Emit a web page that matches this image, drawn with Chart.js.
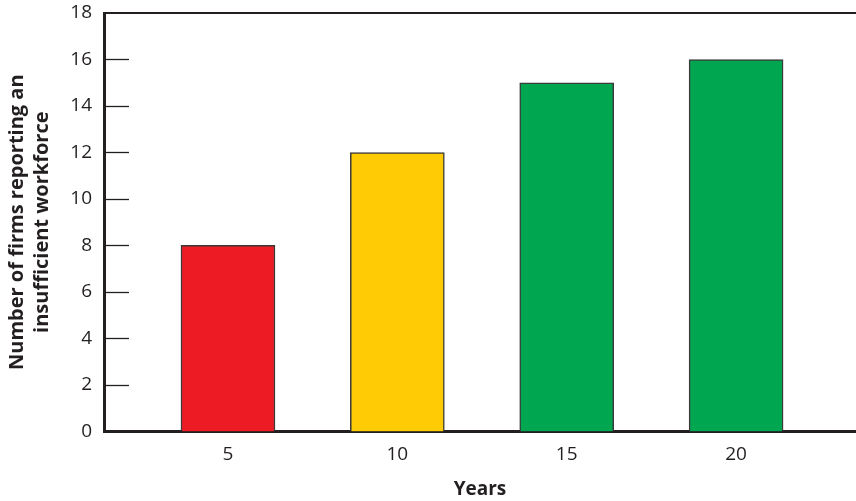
<!DOCTYPE html>
<html>
<head>
<meta charset="utf-8">
<script src="https://cdn.jsdelivr.net/npm/chart.js@4/dist/chart.umd.min.js"></script>
<style>
  html, body { margin: 0; padding: 0; background: #fff; }
  #wrap { width: 856px; height: 501px; position: relative; }
</style>
</head>
<body>
<div id="wrap"><canvas id="firmsChart"></canvas></div>
<script>
// data
const years = [5, 10, 15, 20]
const firms = [8, 12, 15, 16]
const barColors = ["#ED1C24", "#FFCB05", "#00A650", "#00A650"]
const yTicks = [0, 2, 4, 6, 8, 10, 12, 14, 16, 18]

const axisColor = "#231F20"
const textColor = "#231F20"

// tick marks drawn inward from the left axis + top frame line
const innerTicks = {
  id: "innerTicks",
  afterDraw(chart) {
    const { ctx, chartArea, scales } = chart
    const y = scales.y
    ctx.save()
    ctx.strokeStyle = axisColor
    ctx.lineWidth = 1.3
    yTicks.forEach((v) => {
      if (v === 0 || v === 18) return
      const py = Math.round(y.getPixelForValue(v)) + 0.5
      ctx.beginPath()
      ctx.moveTo(chartArea.left, py)
      ctx.lineTo(chartArea.left + 25, py)
      ctx.stroke()
    })
    // top line at 18
    const top = y.getPixelForValue(18)
    ctx.lineWidth = 2
    ctx.beginPath()
    ctx.moveTo(chartArea.left, top)
    ctx.lineTo(chartArea.right, top)
    ctx.stroke()
    ctx.restore()
  },
}

const ctx = document.getElementById("firmsChart")
new Chart(ctx, {
  type: "bar",
  data: {
    datasets: [
      {
        data: years.map((yr, i) => ({ x: yr, y: firms[i] })),
        backgroundColor: barColors,
        borderColor: "#3A3A3A",
        borderWidth: 1.5,
        borderSkipped: "bottom",
        barThickness: 94,
      },
    ],
  },
  options: {
    responsive: true,
    maintainAspectRatio: false,
    animation: false,
    layout: { padding: { left: 0, right: 0, top: 13, bottom: 0 } },
    plugins: {
      legend: { display: false },
      tooltip: { enabled: false },
    },
    scales: {
      x: {
        type: "linear",
        offset: false,
        min: 1.34,
        max: 23.54,
        afterBuildTicks: (scale) => {
          scale.ticks = years.map((v) => ({ value: v }))
        },
        grid: { display: false, drawTicks: false },
        border: { display: true, color: axisColor, width: 3 },
        ticks: {
          color: textColor,
          padding: 12,
          font: { family: "'Open Sans', sans-serif", size: 19 },
        },
        title: {
          display: true,
          text: "Years",
          color: textColor,
          padding: { top: 0, bottom: 0 },
          font: { family: "'Open Sans', sans-serif", size: 19, weight: "bold" },
        },
      },
      y: {
        min: 0,
        max: 18,
        afterBuildTicks: (scale) => {
          scale.ticks = yTicks.map((v) => ({ value: v }))
        },
        afterFit: (scale) => {
          scale.width = 104
          scale.paddingTop = 0
          scale.paddingBottom = 0
        },
        grid: { display: false, drawTicks: false },
        border: { display: true, color: axisColor, width: 3 },
        ticks: {
          color: textColor,
          padding: 12,
          font: { family: "'Open Sans', sans-serif", size: 19 },
        },
        title: {
          display: true,
          text: ["Number of firms reporting an", "insufficient workforce"],
          color: textColor,
          padding: { top: 4.5, bottom: 0 },
          font: { family: "'Open Sans', sans-serif", size: 20, weight: "bold", lineHeight: 1.25 },
        },
      },
    },
  },
  plugins: [innerTicks],
})
</script>
</body>
</html>
